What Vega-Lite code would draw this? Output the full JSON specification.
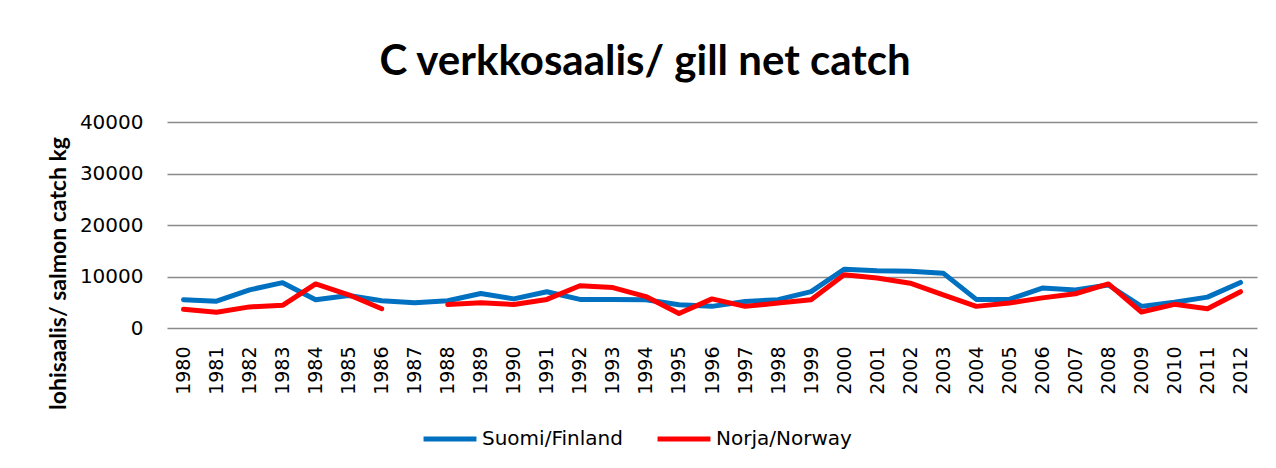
{
  "$schema": "https://vega.github.io/schema/vega-lite/v6.json",
  "autosize": {"type": "none"},
  "width": 1090,
  "height": 206,
  "padding": {"left": 167, "top": 122, "right": 19, "bottom": 140},
  "background": "white",
  "title": {
    "text": "C verkkosaalis/ gill net catch",
    "font": "Lato",
    "fontSize": 42,
    "fontWeight": "bold",
    "color": "#000000",
    "anchor": "middle",
    "frame": "group",
    "baseline": "alphabetic",
    "offset": -5,
    "dx": -67
  },
  "data": {
    "values": [
      {"year": "1980", "series": "Suomi/Finland", "value": 5500},
      {"year": "1981", "series": "Suomi/Finland", "value": 5200},
      {"year": "1982", "series": "Suomi/Finland", "value": 7400},
      {"year": "1983", "series": "Suomi/Finland", "value": 8800},
      {"year": "1984", "series": "Suomi/Finland", "value": 5500},
      {"year": "1985", "series": "Suomi/Finland", "value": 6300},
      {"year": "1986", "series": "Suomi/Finland", "value": 5300},
      {"year": "1987", "series": "Suomi/Finland", "value": 4900},
      {"year": "1988", "series": "Suomi/Finland", "value": 5300},
      {"year": "1989", "series": "Suomi/Finland", "value": 6700},
      {"year": "1990", "series": "Suomi/Finland", "value": 5650},
      {"year": "1991", "series": "Suomi/Finland", "value": 7050},
      {"year": "1992", "series": "Suomi/Finland", "value": 5550},
      {"year": "1993", "series": "Suomi/Finland", "value": 5550},
      {"year": "1994", "series": "Suomi/Finland", "value": 5500},
      {"year": "1995", "series": "Suomi/Finland", "value": 4500},
      {"year": "1996", "series": "Suomi/Finland", "value": 4200},
      {"year": "1997", "series": "Suomi/Finland", "value": 5150},
      {"year": "1998", "series": "Suomi/Finland", "value": 5500},
      {"year": "1999", "series": "Suomi/Finland", "value": 7050},
      {"year": "2000", "series": "Suomi/Finland", "value": 11400},
      {"year": "2001", "series": "Suomi/Finland", "value": 11100},
      {"year": "2002", "series": "Suomi/Finland", "value": 11000},
      {"year": "2003", "series": "Suomi/Finland", "value": 10650},
      {"year": "2004", "series": "Suomi/Finland", "value": 5550},
      {"year": "2005", "series": "Suomi/Finland", "value": 5550},
      {"year": "2006", "series": "Suomi/Finland", "value": 7750},
      {"year": "2007", "series": "Suomi/Finland", "value": 7400},
      {"year": "2008", "series": "Suomi/Finland", "value": 8350},
      {"year": "2009", "series": "Suomi/Finland", "value": 4200},
      {"year": "2010", "series": "Suomi/Finland", "value": 5000},
      {"year": "2011", "series": "Suomi/Finland", "value": 6000},
      {"year": "2012", "series": "Suomi/Finland", "value": 8850},
      {"year": "1980", "series": "Norja/Norway", "value": 3650},
      {"year": "1981", "series": "Norja/Norway", "value": 3050},
      {"year": "1982", "series": "Norja/Norway", "value": 4100},
      {"year": "1983", "series": "Norja/Norway", "value": 4400},
      {"year": "1984", "series": "Norja/Norway", "value": 8550},
      {"year": "1985", "series": "Norja/Norway", "value": 6450},
      {"year": "1986", "series": "Norja/Norway", "value": 3750},
      {"year": "1987", "series": "Norja/Norway", "value": null},
      {"year": "1988", "series": "Norja/Norway", "value": 4550},
      {"year": "1989", "series": "Norja/Norway", "value": 4900},
      {"year": "1990", "series": "Norja/Norway", "value": 4550},
      {"year": "1991", "series": "Norja/Norway", "value": 5550},
      {"year": "1992", "series": "Norja/Norway", "value": 8200},
      {"year": "1993", "series": "Norja/Norway", "value": 7850},
      {"year": "1994", "series": "Norja/Norway", "value": 6100},
      {"year": "1995", "series": "Norja/Norway", "value": 2800},
      {"year": "1996", "series": "Norja/Norway", "value": 5650},
      {"year": "1997", "series": "Norja/Norway", "value": 4200},
      {"year": "1998", "series": "Norja/Norway", "value": 4850},
      {"year": "1999", "series": "Norja/Norway", "value": 5500},
      {"year": "2000", "series": "Norja/Norway", "value": 10350},
      {"year": "2001", "series": "Norja/Norway", "value": 9700},
      {"year": "2002", "series": "Norja/Norway", "value": 8700},
      {"year": "2003", "series": "Norja/Norway", "value": 6450},
      {"year": "2004", "series": "Norja/Norway", "value": 4200},
      {"year": "2005", "series": "Norja/Norway", "value": 4850},
      {"year": "2006", "series": "Norja/Norway", "value": 5850},
      {"year": "2007", "series": "Norja/Norway", "value": 6650},
      {"year": "2008", "series": "Norja/Norway", "value": 8550},
      {"year": "2009", "series": "Norja/Norway", "value": 3100},
      {"year": "2010", "series": "Norja/Norway", "value": 4600},
      {"year": "2011", "series": "Norja/Norway", "value": 3750},
      {"year": "2012", "series": "Norja/Norway", "value": 7050}
    ]
  },
  "mark": {
    "type": "line",
    "strokeWidth": 5,
    "strokeCap": "round",
    "strokeJoin": "round",
    "invalid": "break-paths-show-domains"
  },
  "encoding": {
    "x": {
      "field": "year",
      "type": "ordinal",
      "scale": {"type": "point", "padding": 0.5},
      "axis": {
        "title": null,
        "labelAngle": -90,
        "labelFont": "DejaVu Sans",
        "labelFontSize": 19,
        "labelColor": "#000000",
        "labelPadding": 18,
        "ticks": false,
        "tickSize": 0,
        "domain": false,
        "grid": false
      }
    },
    "y": {
      "field": "value",
      "type": "quantitative",
      "scale": {"domain": [0, 40000], "nice": false},
      "axis": {
        "title": "lohisaalis/ salmon catch kg",
        "titleFont": "Lato",
        "titleFontSize": 23,
        "titleFontWeight": "bold",
        "titleColor": "#000000",
        "titleX": -109,
        "titleY": 151,
        "titleAlign": "center",
        "titleBaseline": "middle",
        "titleAngle": 270,
        "values": [0, 10000, 20000, 30000, 40000],
        "format": "d",
        "labelFont": "DejaVu Sans",
        "labelFontSize": 20,
        "labelColor": "#000000",
        "labelPadding": 24,
        "ticks": false,
        "tickSize": 0,
        "domain": false,
        "grid": true,
        "gridColor": "#8a8a8a",
        "gridWidth": 1.6
      }
    },
    "color": {
      "field": "series",
      "type": "nominal",
      "scale": {"domain": ["Suomi/Finland", "Norja/Norway"], "range": ["#0070C0", "#FF0000"]},
      "legend": {
        "title": null,
        "orient": "none",
        "direction": "horizontal",
        "legendX": 254,
        "legendY": 288,
        "symbolType": "stroke",
        "symbolSize": 2800,
        "symbolStrokeWidth": 5,
        "labelFont": "DejaVu Sans",
        "labelFontSize": 20,
        "labelColor": "#000000",
        "labelOffset": 3,
        "columnPadding": 24,
        "labelLimit": 300
      }
    }
  },
  "config": {
    "view": {"stroke": null}
  }
}
